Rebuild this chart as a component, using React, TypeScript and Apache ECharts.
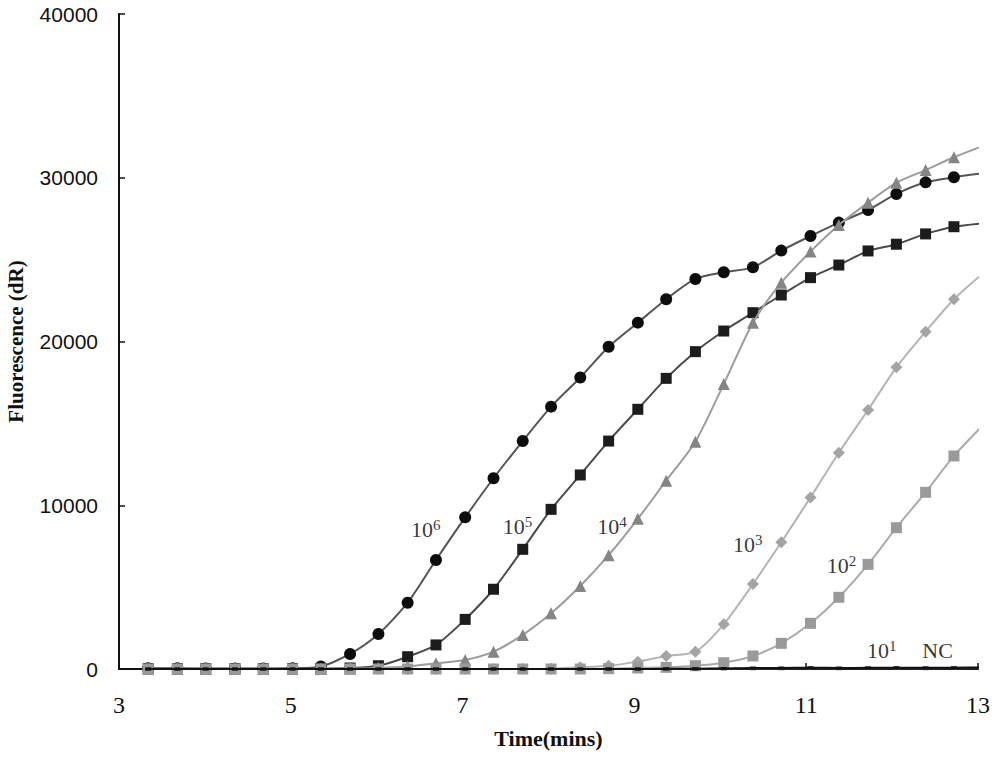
import React, { useEffect, useRef } from "react";
import * as echarts from "echarts";

// Sampling times (mins); the last sample lies just past the axis end and is clipped
const times = [3.34, 3.68, 4.01, 4.35, 4.68, 5.02, 5.35, 5.69, 6.02, 6.36, 6.69, 7.03, 7.36, 7.70, 8.03, 8.37, 8.70, 9.04, 9.37, 9.71, 10.04, 10.38, 10.71, 11.05, 11.38, 11.72, 12.05, 12.39, 12.72, 13.06];

const e6 = [40, 40, 30, 30, 30, 40, 150, 920, 2140, 4050, 6660, 9260, 11650, 13920, 16020, 17800, 19680, 21150, 22580, 23820, 24230, 24530, 25550, 26440, 27260, 28030, 29010, 29720, 30030, 30270];
const e5 = [20, 20, 20, 20, 20, 20, 30, 60, 200, 750, 1470, 3030, 4870, 7310, 9750, 11850, 13920, 15860, 17750, 19380, 20640, 21760, 22840, 23900, 24670, 25530, 25940, 26570, 27010, 27220];
const e4 = [0, 0, 0, 0, 0, 0, 0, 20, 60, 150, 350, 550, 1060, 2080, 3400, 5070, 6950, 9170, 11500, 13880, 17400, 21150, 23590, 25490, 27120, 28480, 29700, 30470, 31250, 31940];
const e3 = [0, 0, 0, 0, 0, 0, 0, 0, 0, 0, 0, 0, 0, 0, 20, 100, 200, 450, 790, 1060, 2730, 5190, 7740, 10480, 13210, 15820, 18420, 20600, 22580, 24170];
const e2 = [0, 0, 0, 0, 0, 0, 0, 0, 0, 0, 0, 0, 0, 0, 0, 0, 20, 60, 100, 200, 385, 794, 1568, 2790, 4380, 6390, 8630, 10790, 13010, 14900];
const e1 = [0, 0, 0, 0, 0, 0, 0, 0, 0, 0, 0, 0, 0, 0, 0, 0, 0, 0, 10, 20, 30, 60, 60, 80, 60, 70, 80, 70, 80, 90];
const nc = [0, 0, 0, 0, 0, 0, 0, 0, 0, 0, 0, 0, 0, 0, 0, 0, 0, 0, 0, 0, 10, 20, 20, 30, 20, 30, 30, 20, 30, 30];

// Curve annotations: base "10", exponent, position (time, value)
const labelTexts = ["10", "10", "10", "10", "10", "10", "NC"];
const labelExps = ["6", "5", "4", "3", "2", "1", ""];
const labelTimes = [6.57, 7.64, 8.74, 10.32, 11.41, 11.88, 12.53];
const labelValues = [8500, 8700, 8700, 7600, 6330, 1150, 1150];

const xTicks = [3, 5, 7, 9, 11, 13];

const pair = (ys: number[]) => ys.map((y, i) => [times[i], y]);

export default function App() {
  const ref = useRef<HTMLDivElement>(null);
  useEffect(() => {
    if (!ref.current) return;
    const chart = echarts.init(ref.current, null, { renderer: "svg" });
    const lineSeries = (
      name: string,
      data: number[],
      lineColor: string,
      symbol: string,
      symbolSize: any,
      markerColor: string,
      z: number
    ) => ({
      name,
      type: "line",
      data: pair(data),
      smooth: 0.25,
      symbol,
      symbolSize,
      showAllSymbol: true,
      clip: true,
      z,
      lineStyle: { color: lineColor, width: 2 },
      itemStyle: { color: markerColor, borderWidth: 0 },
    });
    chart.setOption({
      animation: false,
      backgroundColor: "#ffffff",
      grid: { left: 119, right: 22, top: 14, bottom: 91, containLabel: false, outerBoundsMode: "none" },
      xAxis: {
        type: "value",
        min: 3,
        max: 13,
        interval: 2,
        name: "Time(mins)",
        nameLocation: "middle",
        nameGap: 58,
        nameTextStyle: { fontFamily: "Liberation Serif", fontWeight: "bold", fontSize: 22, color: "#111" },
        axisLine: { show: true, lineStyle: { color: "#111", width: 2 } },
        axisTick: { show: true, inside: true, length: 6, lineStyle: { color: "#111", width: 1.5 }, customValues: xTicks },
        axisLabel: { fontFamily: "Liberation Serif", fontSize: 24, color: "#111", margin: 24, customValues: xTicks },
        splitLine: { show: false },
      },
      yAxis: {
        type: "value",
        min: 0,
        max: 40000,
        interval: 10000,
        name: "Fluorescence (dR)",
        nameLocation: "middle",
        nameGap: 93,
        nameRotate: 90,
        nameTextStyle: { fontFamily: "Liberation Serif", fontWeight: "bold", fontSize: 21, color: "#111" },
        axisLine: { show: true, lineStyle: { color: "#111", width: 2 } },
        axisTick: { show: true, inside: true, length: 6, lineStyle: { color: "#111", width: 1.5 } },
        axisLabel: { fontFamily: "Liberation Sans", fontSize: 21, color: "#111", margin: 21, formatter: (v: number) => String(v) },
        splitLine: { show: false },
      },
      series: [
        lineSeries("10^6", e6, "#555555", "circle", 12, "#0d0d0d", 2),
        lineSeries("10^5", e5, "#4a4a4a", "rect", 11, "#1c1c1c", 3),
        lineSeries("10^4", e4, "#9c9c9c", "triangle", 12, "#858585", 4),
        lineSeries("10^3", e3, "#b4b4b4", "diamond", 12, "#a4a4a4", 5),
        lineSeries("10^2", e2, "#ababab", "rect", 11, "#9a9a9a", 6),
        lineSeries("NC", nc, "#333333", "rect", [6, 3], "#333333", 7),
        lineSeries("10^1", e1, "#111111", "rect", [6, 3], "#111111", 8),
        {
          name: "labels",
          type: "scatter",
          symbolSize: 1,
          itemStyle: { color: "rgba(0,0,0,0)" },
          z: 10,
          data: labelTimes.map((t, i) => ({ value: [t, labelValues[i]], name: labelTexts[i] })),
          label: {
            show: true,
            position: "inside",
            formatter: (p: any) => {
              const e = labelExps[p.dataIndex];
              return e ? `{a|${labelTexts[p.dataIndex]}}{b|${e}}` : `{a|${labelTexts[p.dataIndex]}}`;
            },
            rich: {
              a: { fontFamily: "Liberation Serif", fontSize: 22, color: "#000", lineHeight: 24 },
              b: { fontFamily: "Liberation Serif", fontSize: 15, color: "#000", lineHeight: 14, verticalAlign: "top" },
            },
          },
        },
      ],
    });
    return () => chart.dispose();
  }, []);
  return <div ref={ref} style={{ position: "fixed", left: 0, top: 0, width: 1000, height: 760 }} />;
}
